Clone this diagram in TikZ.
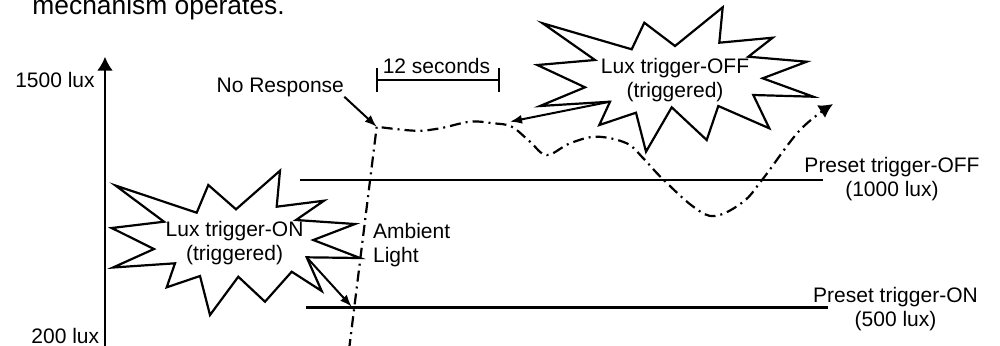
\documentclass[tikz,border=0pt]{standalone}
\usepackage{fontspec}
\setmainfont{Liberation Sans}
\usetikzlibrary{arrows.meta}
\tikzstyle{every node}=[inner sep=0pt, font=\fontsize{10.5}{12}\selectfont]
\tikzstyle{burst}=[draw, line width=1.1pt, line join=miter]
\tikzstyle{level}=[line width=1.2pt]
\tikzstyle{ambient}=[line width=1.1pt, dash pattern=on 5.5pt off 2.5pt on 1pt off 2.5pt]
\tikzstyle{pointer}=[line width=1pt, -{Latex[length=6pt,width=4.5pt]}]

\begin{document}
\begin{tikzpicture}[x=0.5pt, y=-0.5pt]
\useasboundingbox (0,0) rectangle (1000,345);
\clip (0,0) rectangle (1000,345);
\node[anchor=base west, font=\fontsize{13.2}{15}\selectfont] (title) at (32,14) {mechanism operates.};
\coordinate (yBot) at (105,346);
\coordinate (yTop) at (105,56.7);
\draw[line width=1.2pt, -{Latex[length=7pt,width=8pt]}] (yBot) -- (yTop);
\node[anchor=base] (hi) at (55,87.7) {1500 lux};
\node[anchor=base] (lo) at (65.3,343) {200 lux};
\coordinate (offA) at (300,180);
\coordinate (offB) at (822.7,180);
\draw[level] (offA) -- (offB);
\node[anchor=north, align=center] (offLbl) at (892,156.5) {Preset trigger-OFF\\(1000 lux)};
\coordinate (onA) at (306,307.3);
\coordinate (onB) at (828,307.3);
\draw[level] (onA) -- (onB);
\node[anchor=north, align=center] (onLbl) at (895.5,286.7) {Preset trigger-ON\\(500 lux)};
\coordinate (t0) at (375.7,80);
\coordinate (t1) at (500,80);
\draw[line width=1.2pt, {Bar[width=12pt]}-{Bar[width=12pt]}] (t0) -- (t1);
\node[anchor=base] (secs) at (436.5,73.5) {12 seconds};
\coordinate (peak) at (376.7,126.7);
\draw[ambient, -{Latex[length=7pt,width=7.5pt]}] (349,350) -- plot[smooth, tension=0.6] coordinates {(376.7,126.7) (415,130.7) (440,128.3) (470,121.7) (493.3,123.3) (511.7,126.7) (530,141.7) (546.7,155) (570,143.3) (596.7,136.7) (626.7,143.3) (643.3,158.3) (661.7,178) (693.3,206.7) (715,216) (743.3,201.7) (763.3,178.3) (800,130) (833,104)};
\node[anchor=base] (resp) at (280.3,92) {No Response};
\draw[pointer] (resp.south east) -- (peak);
\node[anchor=north west, align=left] (amb) at (372.7,223.3) {Ambient\\Light};
\draw[burst] (542.7,23.3) -- (631.7,49.3) -- (644.3,22.7) -- (675,46) -- (722.7,7.3) -- (719.3,42.7) -- (772.7,37.7) -- (748.3,56.7) -- (806.7,61.7) -- (762.7,78.3) -- (813.3,96.7) -- (753.3,95) -- (769.3,128.3) -- (718.3,106) -- (706.7,140) -- (671.7,107.3) -- (646,151.7) -- (636,112.7) -- (599.3,125) -- (610,101.7) coordinate (offOut) -- (540,106) -- (585,87.3) -- (537.3,65) -- (595,60) -- cycle;
\node[anchor=north, align=center] (offTxt) at (675,58) {Lux trigger-OFF\\(triggered)};
\coordinate (offHit) at (510,121.7);
\draw[pointer] (offOut) -- (offHit);
\draw[burst] (115.5,185.5) -- (196.7,212.7) -- (208.3,185) -- (236,209.3) -- (280,170.7) -- (276.7,206.7) -- (324,200.7) -- (296,220) -- (355,224) -- (313.3,240) -- (360,258) -- (306.7,257.3) coordinate (onOut) -- (321.7,291) -- (291.7,271.7) -- (265,301.7) -- (238.3,276.7) -- (210,315) -- (200,276) -- (166.7,287.3) -- (175,263.3) -- (113,267.5) -- (154,249) -- (111.7,228) -- (164,221.7) -- cycle;
\node[anchor=north, align=center] (onTxt) at (234.6,220.5) {Lux trigger-ON\\(triggered)};
\coordinate (onHit) at (351.7,306.7);
\draw[pointer] (onOut) -- (onHit);
\end{tikzpicture}
\end{document}
